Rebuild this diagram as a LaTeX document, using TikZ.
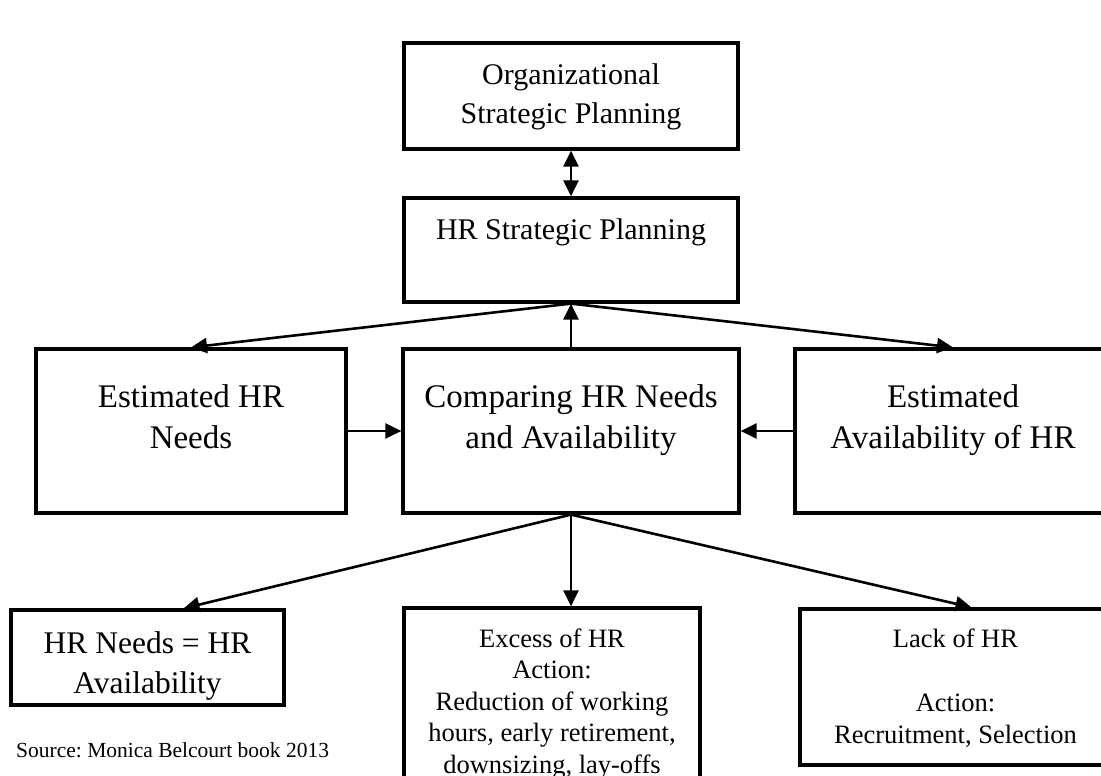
\documentclass[tikz,border=0pt]{standalone}
\usepackage{fontspec}
\setmainfont{Liberation Serif}
\usetikzlibrary{arrows.meta,positioning}
\frenchspacing

\tikzset{
	frame/.style={
		rectangle, draw=black, line width=3.2pt, inner sep=0pt
	},
	%
	bigtext/.style={
		inner sep=0pt, align=center, font=\fontsize{33}{41}\selectfont
	},
	%
	midtext/.style={
		inner sep=0pt, align=center, font=\fontsize{30}{39}\selectfont
	},
	%
	smalltext/.style={
		inner sep=0pt, align=center, font=\fontsize{26.5}{31.5}\selectfont
	},
	%
	link/.style={
		line width=2.6pt, >={Triangle[length=16pt, width=15pt]}
	}
}

\begin{document}
\begin{tikzpicture}[x=1pt, y=-1pt]
    \useasboundingbox (0,0) rectangle (1101,776);
    % planning boxes
    \node(org)[frame, minimum width=334pt, minimum height=106pt] at (571,96) {};
    \node(orgtxt)[midtext, below=22pt of org.north] {Organizational\\ Strategic Planning};
    \node(hrsp)[frame, minimum width=334pt, minimum height=104pt] at (571,250) {};
    \node(hrsptxt)[midtext, below=22pt of hrsp.north] {HR Strategic Planning};
    % needs / comparing / availability
    \node(needs)[frame, minimum width=310pt, minimum height=164pt] at (191,431) {};
    \node(needstxt)[bigtext, below=37pt of needs.north] {Estimated HR\\ Needs};
    \node(comp)[frame, minimum width=336pt, minimum height=164pt] at (571,431) {};
    \node(comptxt)[bigtext, below=37pt of comp.north] {Comparing HR Needs\\ and Availability};
    \node(avail)[frame, minimum width=316pt, minimum height=164pt] at (953,431) {};
    \node(availtxt)[bigtext, below=37pt of avail.north] {Estimated\\ Availability of HR};
    % outcomes
    \node(equal)[frame, minimum width=273pt, minimum height=95pt] at (147.5,657.5) {};
    \node(equaltxt)[bigtext, font=\fontsize{31.5}{40}\selectfont, below=23pt of equal.north] {HR Needs = HR\\ Availability};
    \node(excess)[frame, minimum width=296pt, minimum height=182pt] at (552,699) {};
    \node(excesstxt)[smalltext, below=22pt of excess.north] {Excess of HR\\ Action:\\ Reduction of working\\ hours, early retirement,\\ downsizing, lay-offs};
    \node(lack)[frame, minimum width=311pt, minimum height=156pt] at (955.5,687) {};
    \node(lacktxt)[smalltext, below=21pt of lack.north] {Lack of HR\\[33pt] Action:\\ Recruitment, Selection};
    \node(src)[smalltext, font=\fontsize{21.5}{26}\selectfont, anchor=west] at (16,750) {Source: Monica Belcourt book 2013};
    % connectors
    \draw[link, <->] (org) -- (hrsp);
    \draw[link, ->] (comp) -- (hrsp);
    \draw[link, ->] (hrsp.south) -- (needs.north);
    \draw[link, ->] (hrsp.south) -- (avail.north);
    \draw[link, ->] (needs) -- (comp);
    \draw[link, ->] (avail) -- (comp);
    \draw[link, ->] (comp.south) -- ([xshift=36pt]equal.north);
    \draw[link, ->] (comp.south) -- (comp.south |- excess.north);
    \draw[link, ->] (comp.south) -- ([xshift=16pt]lack.north);
\end{tikzpicture}
\end{document}
